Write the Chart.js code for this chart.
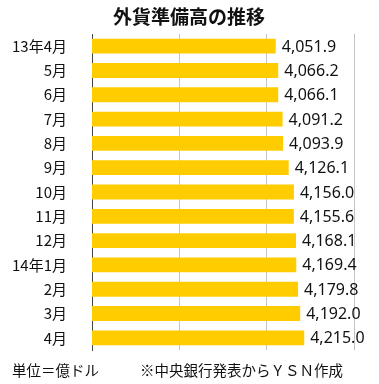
<!DOCTYPE html>
<html>
<head>
<meta charset="utf-8">
<script src="https://cdn.jsdelivr.net/npm/chart.js@4"></script>
<style>
  html, body { margin: 0; padding: 0; background: #fff; }
  #wrap { width: 379px; height: 384px; position: relative; }
</style>
</head>
<body>
<div id="wrap"><canvas id="chart" width="379" height="384"></canvas></div>
<script>
const months = ['13年4月', '5月', '6月', '7月', '8月', '9月', '10月', '11月', '12月', '14年1月', '2月', '3月', '4月'];
const reserves = [4051.9, 4066.2, 4066.1, 4091.2, 4093.9, 4126.1, 4156.0, 4155.6, 4168.1, 4169.4, 4179.8, 4192.0, 4215.0];
const titleText = '外貨準備高の推移';
const unitNote = '単位＝億ドル';
const sourceNote = '※中央銀行発表からＹＳＮ作成';

const jpFont = '"Noto Sans CJK JP", "Noto Sans", sans-serif';

// value labels to the right of each bar, plus title and footer notes
const labelPlugin = {
  id: 'labels',
  afterDatasetsDraw(chart) {
    const ctx = chart.ctx;
    const meta = chart.getDatasetMeta(0);
    ctx.save();
    ctx.fillStyle = '#111';
    ctx.font = '16px "Noto Sans", sans-serif';
    ctx.textAlign = 'left';
    ctx.textBaseline = 'middle';
    meta.data.forEach((bar, i) => {
      const txt = reserves[i].toLocaleString('en-US', { minimumFractionDigits: 1, maximumFractionDigits: 1 });
      ctx.fillText(txt, bar.x + 6, bar.y + 1);
    });
    ctx.restore();
  },
  afterDraw(chart) {
    const ctx = chart.ctx;
    ctx.save();
    ctx.fillStyle = '#111';
    ctx.textBaseline = 'middle';
    ctx.font = 'bold 19px ' + jpFont;
    ctx.textAlign = 'center';
    ctx.fillText(titleText, 189, 17);
    ctx.font = '14.5px ' + jpFont;
    ctx.textAlign = 'left';
    ctx.fillText(unitNote, 12, 370);
    ctx.fillText(sourceNote, 140, 370);
    ctx.restore();
  }
};

new Chart(document.getElementById('chart'), {
  type: 'bar',
  data: {
    labels: months,
    datasets: [{
      data: reserves,
      backgroundColor: '#FFCC00',
      borderWidth: 0,
      categoryPercentage: 1,
      barPercentage: 0.61
    }]
  },
  options: {
    indexAxis: 'y',
    responsive: false,
    animation: false,
    layout: { padding: { top: 32, right: 25, bottom: 31, left: 0 } },
    plugins: {
      legend: { display: false },
      tooltip: { enabled: false }
    },
    scales: {
      x: {
        min: 3000,
        max: 4500,
        ticks: { display: false, stepSize: 500 },
        grid: { color: '#c4c4c4', drawTicks: false, lineWidth: 1 },
        border: { display: false },
        afterFit: s => { s.height = 0; }
      },
      y: {
        ticks: { color: '#111', font: { size: 15, family: jpFont }, padding: 25 },
        grid: { display: false, drawTicks: false },
        border: { display: true, color: '#444', width: 1 },
        afterFit: s => { s.width = 92; }
      }
    }
  },
  plugins: [labelPlugin]
});
</script>
</body>
</html>
